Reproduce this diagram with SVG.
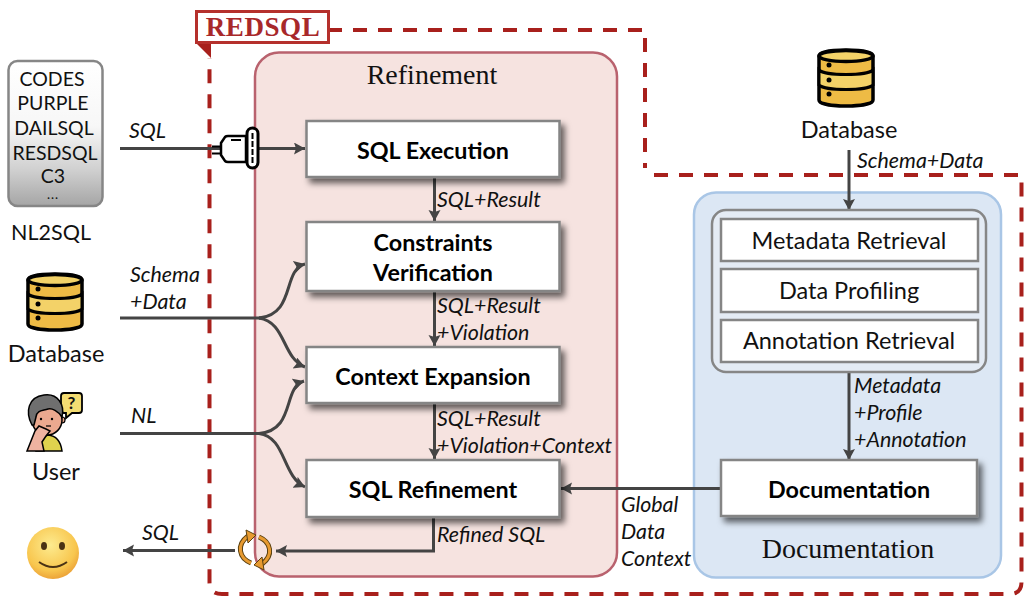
<svg xmlns="http://www.w3.org/2000/svg" width="1030" height="604" viewBox="0 0 1030 604">
<style>
text{font-family:"Lato","Open Sans",sans-serif;fill:#111}
.t{font-size:23.5px;text-anchor:middle}
.n{font-size:19.5px;text-anchor:middle}
.b{font-size:23.3px;font-weight:700;text-anchor:middle;fill:#000}
.l{font-size:21.4px;font-style:italic}
.s{font-family:"Liberation Serif",serif;font-size:28px;text-anchor:middle}
.box{fill:#fff;stroke:#858585;stroke-width:2.5}
.c{fill:none;stroke:#444;stroke-width:3}
.a{fill:none;stroke:#444;stroke-width:3;marker-end:url(#arr)}
.dash{fill:none;stroke:#a8201c;stroke-width:4;stroke-dasharray:14 11}
</style>
<defs>
<marker id="arr" markerUnits="userSpaceOnUse" markerWidth="14" markerHeight="14" refX="11" refY="6" orient="auto"><path d="M0 0L11 6L0 12L2 6Z" fill="#444"/></marker>
<linearGradient id="gr" x1="0" y1="0" x2="0" y2="1"><stop offset="0" stop-color="#fff"/><stop offset=".45" stop-color="#f7f7f7"/><stop offset=".75" stop-color="#d0d0d0"/><stop offset="1" stop-color="#a5a5a5"/></linearGradient>
<radialGradient id="sm" cx=".45" cy=".35" r=".75"><stop offset="0" stop-color="#fdeb8f"/><stop offset=".65" stop-color="#f8c64e"/><stop offset="1" stop-color="#e58f2c"/></radialGradient>
<filter id="sh" x="-10%" y="-20%" width="125%" height="150%"><feDropShadow dx="4" dy="5" stdDeviation="3" flood-color="#000" flood-opacity=".6"/></filter>
<g id="db">
<path d="M-27-22C-27-30 27-30 27-22V22C27 30-27 30-27 22Z" fill="#eebb45" stroke="#000" stroke-width="3.5"/>
<path d="M-27-8C-20-2 20-2 27-8V7C20 13-20 13-27 7Z" fill="#f3d268" stroke="#000" stroke-width="3"/>
<ellipse cx="0" cy="-22" rx="27" ry="5.500" fill="#f3d268" stroke="#000" stroke-width="3.500"/>
<circle cx="-17" cy="-13" r="2.500"/><circle cx="-17" cy="2" r="2.500"/><circle cx="-17" cy="16" r="2.500"/>
</g>
</defs>
<rect width="1030" height="604" fill="#fff"/>

<g id="redsql-boundary">
<path class="dash" d="M328 30H645V168"/>
<path class="dash" d="M654 175H1021.500V582Q1021.500 594 1010 594H222Q209.500 594 209.500 582V58"/>
<path d="M196 43L211 58V43Z" fill="#a8201c"/>
<rect x="196.500" y="11.500" width="132" height="31" fill="#fff" stroke="#b5302c" stroke-width="3"/>
<text x="263" y="36" font-size="27" font-weight="700" text-anchor="middle" letter-spacing=".6" style="font-family:'Liberation Serif',serif;fill:#a8282a">REDSQL</text>
</g>

<g id="refinement">
<rect x="255" y="52.500" width="362" height="524" rx="24" fill="#f6e3e0" stroke="#b9626e" stroke-width="2.500"/>
<text class="s" x="432" y="84">Refinement</text>
</g>
<g id="documentation-panel">
<rect x="694" y="192.500" width="307" height="385" rx="22" fill="#dce7f4" stroke="#a9c6e6" stroke-width="2.500"/>
<text class="s" x="848" y="558">Documentation</text>
</g>

<g id="connectors">
<path class="c" d="M120 148.500H222"/>
<path class="a" d="M258 148.500H305"/>
<path class="a" d="M434.500 177V221"/>
<path class="a" d="M434.500 291V346"/>
<path class="a" d="M434.500 403V459"/>
<path class="c" d="M120 318H262"/>
<path class="a" d="M259 318C296 314 282 270 305 264"/>
<path class="a" d="M259 318C286 322 282 358 305 367"/>
<path class="c" d="M120 433.500H262"/>
<path class="a" d="M259 433.500C296 430 282 388 304 381"/>
<path class="a" d="M259 433.500C286 437 282 476 305 487"/>
<path class="c" d="M433.500 517V551H276" style="marker-end:url(#arr)"/>
<path class="c" d="M235 550.500H123" style="marker-end:url(#arr)"/>
<path class="a" d="M849 150V210"/>
<path class="a" d="M849 372V460"/>
<path class="a" d="M721 488.500H561"/>
</g>

<g id="nl2sql">
<rect x="8.500" y="61" width="94" height="145" rx="9" fill="url(#gr)" stroke="#868686" stroke-width="2.500"/>
<text class="n" x="52" y="86">CODES</text><text class="n" x="53" y="110">PURPLE</text><text class="n" x="54" y="135">DAILSQL</text><text class="n" x="55" y="160">RESDSQL</text><text class="n" x="53" y="183">C3</text><text class="n" x="53" y="199" style="font-size:13px;letter-spacing:1px">...</text>
<text x="51" y="240" style="font-size:21.500px;text-anchor:middle">NL2SQL</text>
</g>

<g id="plug">
<path d="M212 146.500H222M212 153.500H222" stroke="#000" stroke-width="2" fill="none"/>
<path d="M221 143L225 137Q226 136 228 136H246V162H228Q226 162 225 161L221 155Z" fill="#fff" stroke="#000" stroke-width="2.500"/>
<path d="M231 140H241" stroke="#000" stroke-width="2"/>
<rect x="247" y="128" width="11" height="40" rx="5.500" fill="#fff" stroke="#000" stroke-width="3"/>
<path d="M252.500 133V164" stroke="#000" stroke-width="2" stroke-dasharray="6 2"/>
</g>

<g id="database-left"><use href="#db" x="55" y="302"/><text class="t" x="56" y="362">Database</text></g>
<g id="database-top"><use href="#db" x="846" y="78"/><text class="t" x="849" y="138">Database</text></g>

<g id="user">
<path d="M64 393H79Q82 393 82 396V410Q82 413 79 413H72L66 418V413H64Q61 413 61 410V396Q61 393 64 393Z" fill="#f3dc72" stroke="#000" stroke-width="1.800"/>
<text x="71.500" y="409" style="font-size:17px;font-weight:700;text-anchor:middle">?</text>
<path d="M36 451Q38 437 48 435Q60 436 62 451Z" fill="#dfd24e" stroke="#000" stroke-width="1.500"/>
<circle cx="62" cy="420" r="3" fill="#eba98f" stroke="#000" stroke-width="1.200"/>
<circle cx="47" cy="420" r="15" fill="#eba98f" stroke="#000" stroke-width="1.500"/>
<path d="M32 425C25 412 28 397 44 395C58 393 65 405 62 417C58 411 52 408 48 409C42 411 37 410 36 417L34 425Z" fill="#6f6f6f" stroke="#000" stroke-width="1.500"/>
<circle cx="41" cy="419" r="1.200"/><circle cx="52" cy="419" r="1.200"/><path d="M46 426H51" stroke="#000" stroke-width="1.200"/>
<path d="M27 451L35 431L39 426L46 429L50 431L46 436L42 442L44 451Z" fill="#eeb3a0" stroke="#000" stroke-width="1.500"/>
</g>
<text class="t" x="56" y="480">User</text>

<g id="smiley">
<circle cx="53" cy="553" r="26" fill="url(#sm)"/>
<ellipse cx="44" cy="546" rx="3" ry="4" fill="#4a3214"/><ellipse cx="62" cy="546" rx="3" ry="4" fill="#4a3214"/>
<path d="M39 562Q53 572 67 562" fill="none" stroke="#4a3214" stroke-width="2"/>
</g>

<g id="refresh" fill="none">
<path d="M251 563C239 558 236 545 248 536" stroke="#5a4010" stroke-width="5"/><path d="M251 563C239 558 236 545 248 536" stroke="#e79a30" stroke-width="3"/>
<path d="M259 537C271 542 274 555 262 564" stroke="#5a4010" stroke-width="5"/><path d="M259 537C271 542 274 555 262 564" stroke="#e79a30" stroke-width="3"/>
<path d="M246 530L256 535L248 543Z" fill="#e79a30" stroke="#5a4010" stroke-width="1"/>
<path d="M264 570L254 565L262 557Z" fill="#e79a30" stroke="#5a4010" stroke-width="1"/>
</g>

<g id="sql-execution"><rect class="box" x="306.500" y="121" width="253" height="56" filter="url(#sh)"/><text class="b" x="433" y="159">SQL Execution</text></g>
<g id="constraints-verification"><rect class="box" x="306.500" y="222" width="253" height="69" filter="url(#sh)"/><text class="b" x="433" y="251">Constraints</text><text class="b" x="433" y="281">Verification</text></g>
<g id="context-expansion"><rect class="box" x="306.500" y="347" width="253" height="56" filter="url(#sh)"/><text class="b" x="433" y="385">Context Expansion</text></g>
<g id="sql-refinement"><rect class="box" x="306.500" y="460" width="253" height="57" filter="url(#sh)"/><text class="b" x="433" y="498">SQL Refinement</text></g>

<g id="doc-sources">
<rect x="712" y="210" width="274" height="162" rx="14" fill="#e4ebf4" stroke="#868686" stroke-width="2.500"/>
<g id="metadata-retrieval"><rect class="box" x="721" y="219" width="257" height="42"/><text class="t" x="849" y="249">Metadata Retrieval</text></g>
<g id="data-profiling"><rect class="box" x="721" y="269" width="257" height="43"/><text class="t" x="849" y="299">Data Profiling</text></g>
<g id="annotation-retrieval"><rect class="box" x="721" y="320" width="257" height="42"/><text class="t" x="849" y="349">Annotation Retrieval</text></g>
</g>
<g id="documentation"><rect class="box" x="721" y="460" width="256" height="56" filter="url(#sh)"/><text class="b" x="849" y="498">Documentation</text></g>

<g id="labels">
<text class="l" x="129" y="138">SQL</text>
<text class="l" x="130" y="282">Schema</text><text class="l" x="130" y="309">+Data</text>
<text class="l" x="131" y="423">NL</text>
<text class="l" x="142" y="540">SQL</text>
<text class="l" x="437" y="207">SQL+Result</text>
<text class="l" x="437" y="313">SQL+Result</text><text class="l" x="437" y="340">+Violation</text>
<text class="l" x="437" y="426">SQL+Result</text><text class="l" x="437" y="453">+Violation+Context</text>
<text class="l" x="437" y="542">Refined SQL</text>
<text class="l" x="621" y="512">Global</text><text class="l" x="621" y="539">Data</text><text class="l" x="621" y="566">Context</text>
<text class="l" x="857" y="168">Schema+Data</text>
<text class="l" x="854" y="393">Metadata</text><text class="l" x="854" y="420">+Profile</text><text class="l" x="854" y="447">+Annotation</text>
</g>
</svg>
